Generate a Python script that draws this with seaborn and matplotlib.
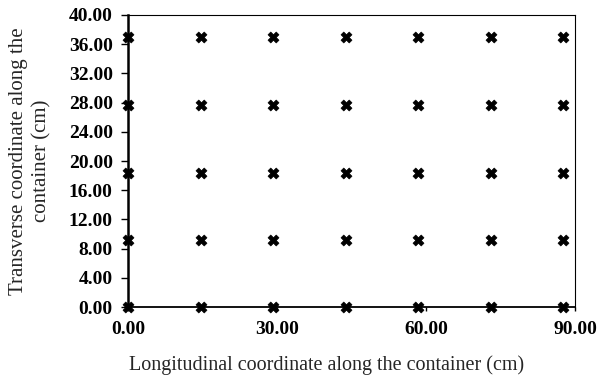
import numpy as np
import pandas as pd
import matplotlib
matplotlib.use("Agg")
import matplotlib.pyplot as plt
import seaborn as sns

x_positions = [0.0, 14.6, 29.2, 43.8, 58.4, 73.0, 87.6]
y_positions = [0.0, 9.2, 18.4, 27.7, 37.0]
x_ticks = [0, 30, 60, 90]
y_ticks = [0, 4, 8, 12, 16, 20, 24, 28, 32, 36, 40]

rows = [(xv, yv) for yv in y_positions for xv in x_positions]
df = pd.DataFrame(rows, columns=["x", "y"])

sns.set_theme(style="ticks")
plt.rcParams['font.family'] = ['Liberation Serif', 'DejaVu Serif']

fig = plt.figure(figsize=(5.99, 3.75), dpi=100)
ax = fig.add_axes([0.2137, 0.1813, 0.96 - 0.2137, 0.96 - 0.1813])

sns.scatterplot(data=df, x="x", y="y", ax=ax, marker="X", s=62, color="black",
                edgecolor="black", linewidth=0.5, clip_on=False, zorder=5)

ax.set_xlim(0, 90)
ax.set_ylim(0, 40)
ax.set_xticks(x_ticks)
ax.set_yticks(y_ticks)
ax.set_xticklabels([f"{v:.2f}" for v in x_ticks], fontsize=14, fontweight="bold")
ax.set_yticklabels([f"{v:.2f}" for v in y_ticks], fontsize=14, fontweight="bold")
ax.tick_params(axis="x", direction="out", length=3, width=1, colors="black", pad=7)
ax.tick_params(axis="y", direction="out", length=5, width=1, colors="black", pad=6)

for side in ["top", "right"]:
    ax.spines[side].set_visible(True)
    ax.spines[side].set_linewidth(0.8)
    ax.spines[side].set_color("black")
ax.spines["left"].set_linewidth(1.8)
ax.spines["bottom"].set_linewidth(1.3)
ax.spines["left"].set_color("black")
ax.spines["bottom"].set_color("black")

ax.set_xlabel("Longitudinal coordinate along the container (cm)", fontsize=14.5, labelpad=10)
ax.xaxis.set_label_coords(0.445, -0.165)
ax.set_ylabel("Transverse coordinate along the\ncontainer (cm)", fontsize=15, labelpad=8,
              linespacing=1.3)
ax.yaxis.set_label_coords(-0.172, 0.5)

fig.savefig("out.png", dpi=100)
